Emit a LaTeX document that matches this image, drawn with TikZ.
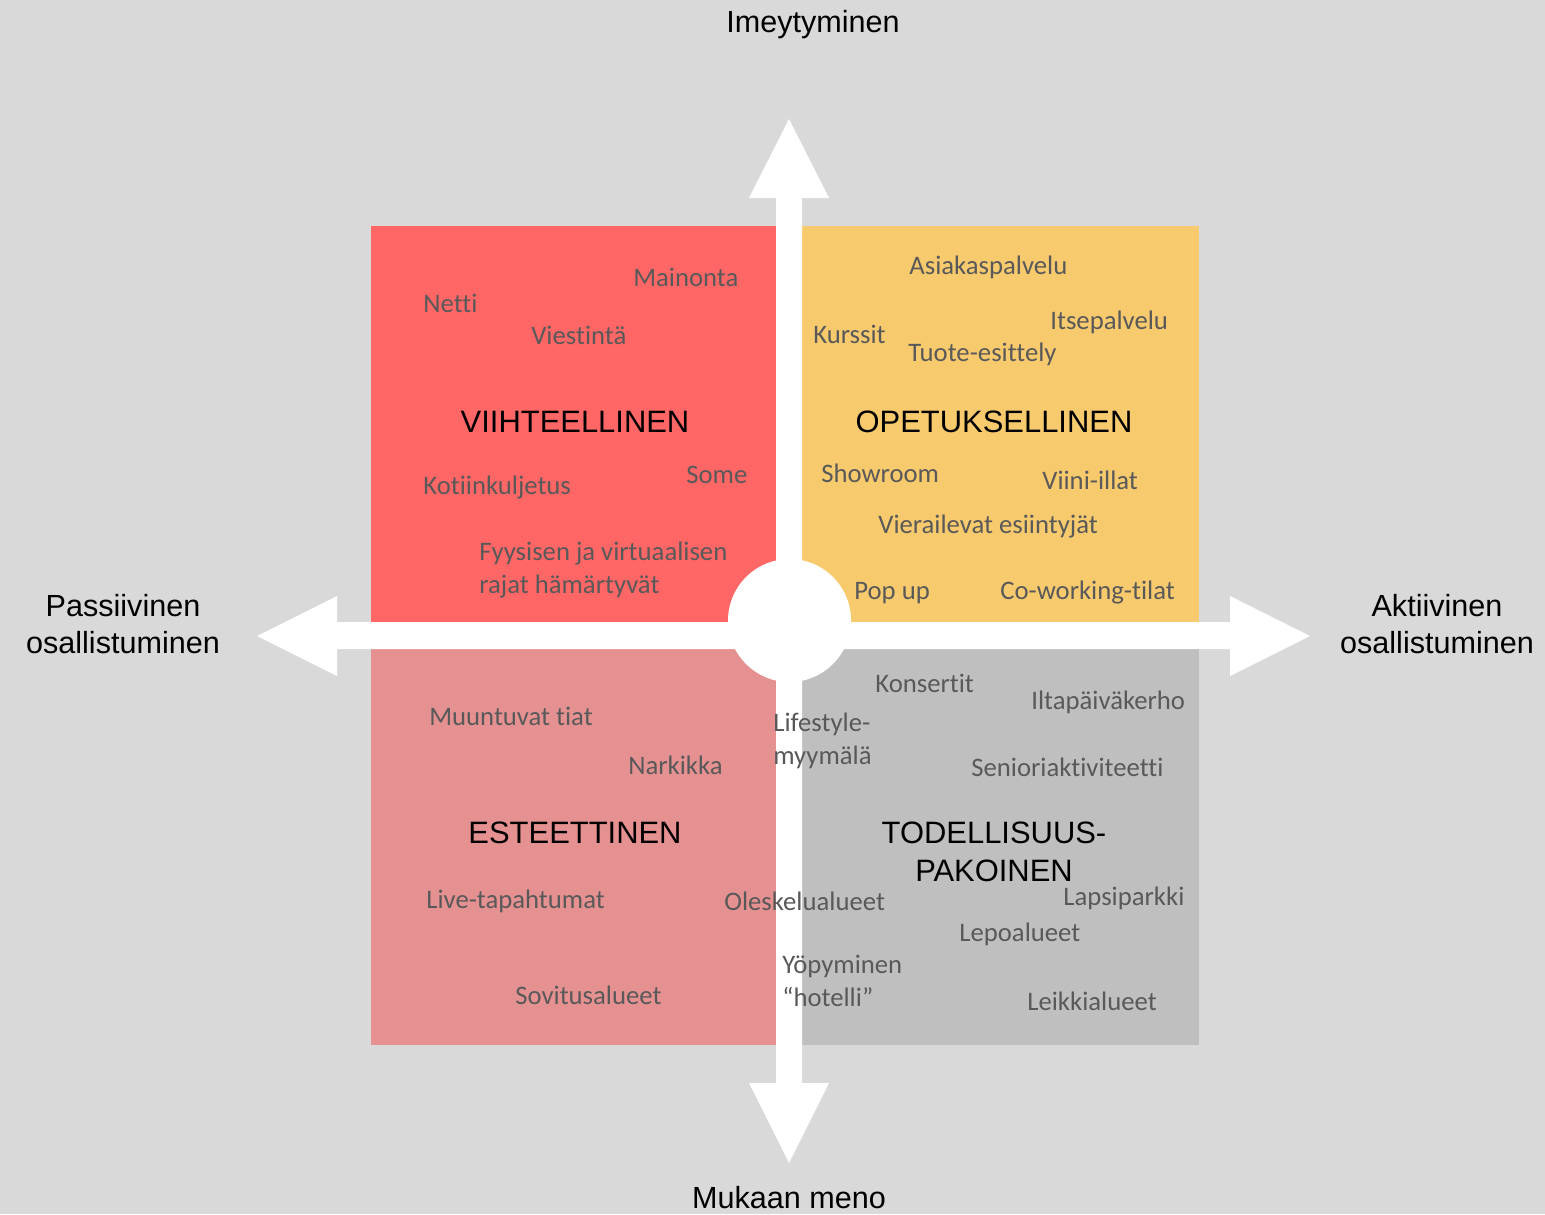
\documentclass[tikz,border=0pt]{standalone}
\usepackage{fontspec}
\setmainfont{Liberation Sans}
\newfontfamily\itemfont[Ligatures=NoCommon]{Carlito}
\usetikzlibrary{positioning}

\definecolor{bggray}{RGB}{217,217,217}
\definecolor{quadred}{RGB}{255,102,102}
\definecolor{quadyellow}{RGB}{247,202,110}
\definecolor{quadpink}{RGB}{230,145,145}
\definecolor{quadgray}{RGB}{191,191,191}
\definecolor{itemgray}{RGB}{89,89,89}

\begin{document}
\begin{tikzpicture}[
        x=0.02cm, y=-0.02cm,
        quad/.style      = {draw=none},
        axisarrow/.style = {fill=white, draw=none},
        axislabel/.style = {inner sep=0pt, align=center,
                            font=\fontsize{17.4}{21.2}\selectfont},
        title/.style     = {inner sep=0pt, align=center,
                            font=\fontsize{17.6}{21.6}\selectfont},
        item/.style      = {anchor=west, inner sep=0pt, align=left, text=itemgray,
                            font=\itemfont\fontsize{15.2}{18.6}\selectfont}
    ]
        % tausta
        \fill[bggray] (0,0) rectangle (1545,1214);
        \useasboundingbox (0,0) rectangle (1545,1214);

        % nelikentta
        \fill[quad, quadred]    (371,226) rectangle (776,622);
        \fill[quad, quadyellow] (802,226) rectangle (1199,622);
        \fill[quad, quadpink]   (371,649) rectangle (776,1045);
        \fill[quad, quadgray]   (802,649) rectangle (1199,1045);

        % akselit
        \fill[axisarrow] (776,198) -- (749,198) -- (789,119) -- (829,198) -- (802,198)
                      -- (802,1083) -- (829,1083) -- (789,1163) -- (749,1083) -- (776,1083) -- cycle;
        \fill[axisarrow] (337,622) -- (337,596) -- (257,636) -- (337,676) -- (337,649)
                      -- (1230,649) -- (1230,676) -- (1310,636) -- (1230,596) -- (1230,622) -- cycle;
        \fill[white] (789.5,620.5) circle (61.5);

        % akselien nimet
        \node[axislabel] (imey)  at (813,25)   {Imeytyminen};
        \node[axislabel] (mukaan) at (789,1198) {Mukaan meno};
        \node[axislabel] (passiv) at (123,624)  {Passiivinen\\osallistuminen};
        \node[axislabel] (aktiiv) at (1437,624) {Aktiivinen\\osallistuminen};

        % otsikot
        \node[title] (viihde)  at (575,422) {VIIHTEELLINEN};
        \node[title] (opetus)  at (994,422) {OPETUKSELLINEN};
        \node[title] (esteet)  at (575,833) {ESTEETTINEN};
        \node[title] (todell)  at (994,852) {TODELLISUUS-\\PAKOINEN};

        % viihteellinen
        \node[item] (mainonta) at (633,277) {Mainonta};
        \node[item] (netti)    at (423,303) {Netti};
        \node[item] (viestinta) at (531,335) {Viestintä};
        \node[item] (some)     at (686,475) {Some};
        \node[item] (kotiin)   at (423,488) {Kotiinkuljetus};
        \node[item] (fyysinen) at (479,570) {Fyysisen ja virtuaalisen\\rajat hämärtyvät};

        % opetuksellinen
        \node[item] (asiakas)  at (909,267) {Asiakaspalvelu};
        \node[item] (itsepalv) at (1050,322) {Itsepalvelu};
        \node[item] (kurssit)  at (813,334) {Kurssit};
        \node[item] (tuote)    at (908,354) {Tuote-esittely};
        \node[item] (showroom) at (821,473) {Showroom};
        \node[item] (viini)    at (1042,480) {Viini-illat};
        \node[item] (vieraat)  at (878,527) {Vierailevat esiintyjät};
        \node[item] (popup)    at (854,593) {Pop up};
        \node[item] (cowork)   at (1000,593) {Co-working-tilat};

        % esteettinen
        \node[item] (muuntuvat) at (429,716) {Muuntuvat tiat};
        \node[item] (narkikka)  at (628,765) {Narkikka};
        \node[item] (live)      at (426,901) {Live-tapahtumat};
        \node[item] (oleskelu)  at (724,901) {Oleskelualueet};
        \node[item] (sovitus)   at (515,995) {Sovitusalueet};

        % todellisuuspakoinen
        \node[item] (konsertit) at (875,683) {Konsertit};
        \node[item] (iltapaiva) at (1031,702) {Iltapäiväkerho};
        \node[item] (lifestyle) at (773,741) {Lifestyle-\\myymälä};
        \node[item] (senior)    at (971,767) {Senioriaktiviteetti};
        \node[item] (lapsi)     at (1063,898) {Lapsiparkki};
        \node[item] (lepo)      at (959,934) {Lepoalueet};
        \node[item] (yopyminen) at (782,981) {Yöpyminen\\“hotelli”};
        \node[item] (leikki)    at (1027,1001) {Leikkialueet};
    \end{tikzpicture}
\end{document}
